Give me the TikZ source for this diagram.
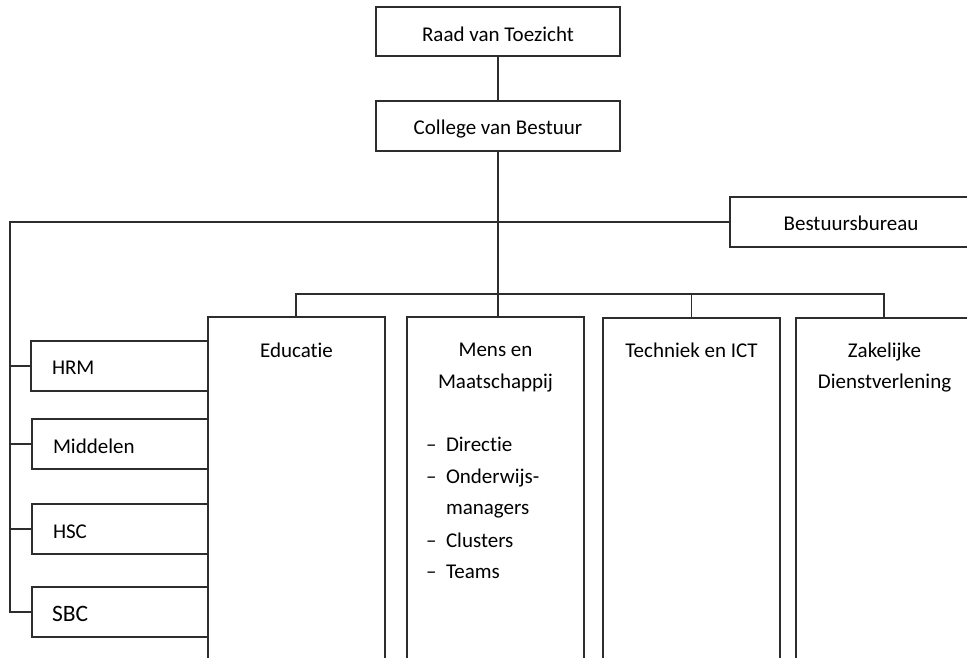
\documentclass[tikz,border=0pt]{standalone}
\usepackage{fontspec}
\setmainfont{Carlito}[Ligatures={NoCommon,NoContextual}]
\definecolor{linecol}{RGB}{45,45,45}
\tikzset{
  box/.style={draw=linecol, line width=1.2pt, fill=none, inner sep=0pt, outer sep=0pt, rectangle},
  conn/.style={draw=linecol, line width=1.2pt},
  lbl/.style={inner sep=0pt, outer sep=0pt, font=\fontsize{21}{25}\selectfont, anchor=base},
  lbll/.style={lbl, anchor=base west},
}
\begin{document}
\begin{tikzpicture}[x=1pt,y=-1pt]
\useasboundingbox (0,0) rectangle (967,658);
\clip (0,0) rectangle (967,658);
% boxes
\node[box, minimum width=244pt, minimum height=49pt] (rvt) at (498,31.5) {};
\node[box, minimum width=244pt, minimum height=50pt] (cvb) at (498,126) {};
\node[box, minimum width=242pt, minimum height=50pt] (bb) at (851,222) {};
\node[box, minimum width=177pt, minimum height=363pt] (edu) at (296.5,498.5) {};
\node[box, minimum width=177pt, minimum height=363pt] (mens) at (495.5,498.5) {};
\node[box, minimum width=177pt, minimum height=362pt] (tech) at (691.5,499) {};
\node[box, minimum width=177pt, minimum height=362pt] (zak) at (884.5,499) {};
\node[box, minimum width=177pt, minimum height=50pt] (hrm) at (119.5,366) {};
\node[box, minimum width=176pt, minimum height=50pt] (mid) at (120,444) {};
\node[box, minimum width=176pt, minimum height=50pt] (hsc) at (120,529) {};
\node[box, minimum width=176pt, minimum height=50pt] (sbc) at (120,612) {};
% labels
\node[lbl] (trvt) at (498,42) {Raad van Toezicht};
\node[lbl] (tcvb) at (498,135) {College van Bestuur};
\node[lbl] (tbb) at (851,230) {Bestuursbureau};
\node[lbl] (tedu) at (296.5,357) {Educatie};
\node[lbl] (tmens1) at (495.5,356) {Mens en};
\node[lbl] (tmens2) at (495.5,388) {Maatschappij};
\node[lbl] (ttech) at (691.5,357) {Techniek en ICT};
\node[lbl] (tzak1) at (884.5,357) {Zakelijke};
\node[lbl] (tzak2) at (884.5,388) {Dienstverlening};
\node[lbll] (d1) at (426,451) {–};
\node[lbll] (i1) at (446,451) {Directie};
\node[lbll] (d2) at (426,483) {–};
\node[lbll] (i2) at (446,483) {Onderwijs-};
\node[lbll] (i2b) at (446,514) {managers};
\node[lbll] (d3) at (426,547) {–};
\node[lbll] (i3) at (446,547) {Clusters};
\node[lbll] (d4) at (426,578) {–};
\node[lbll] (i4) at (446,578) {Teams};
\node[lbll] (thrm) at (52,374) {HRM};
\node[lbll] (tmid) at (53,453) {Middelen};
\node[lbll] (thsc) at (53,538) {HSC};
\node[lbll, font=\fontsize{23.5}{28}\selectfont] (tsbc) at (52,621) {SBC};
% connectors
\coordinate (barL) at (296,294);
\coordinate (barR) at (884,294);
\coordinate (lv) at (10,222);
\draw[conn] (rvt.south) -- (cvb.south |- rvt.south) -- (cvb.north);
\draw[conn] (cvb.south) -- (cvb.south |- mens.north);
\draw[conn] (edu.north -| barL) -- (barL) -- (barR) -- (zak.north -| barR);
\draw[conn] (tech.north) -- (tech.north |- barL);
\draw[conn] (bb.west) -- (lv) -- (lv |- sbc.west) -- (sbc.west);
\draw[conn] (lv |- hrm.west) -- (hrm.west);
\draw[conn] (lv |- mid.west) -- (mid.west);
\draw[conn] (lv |- hsc.west) -- (hsc.west);
\end{tikzpicture}
\end{document}
